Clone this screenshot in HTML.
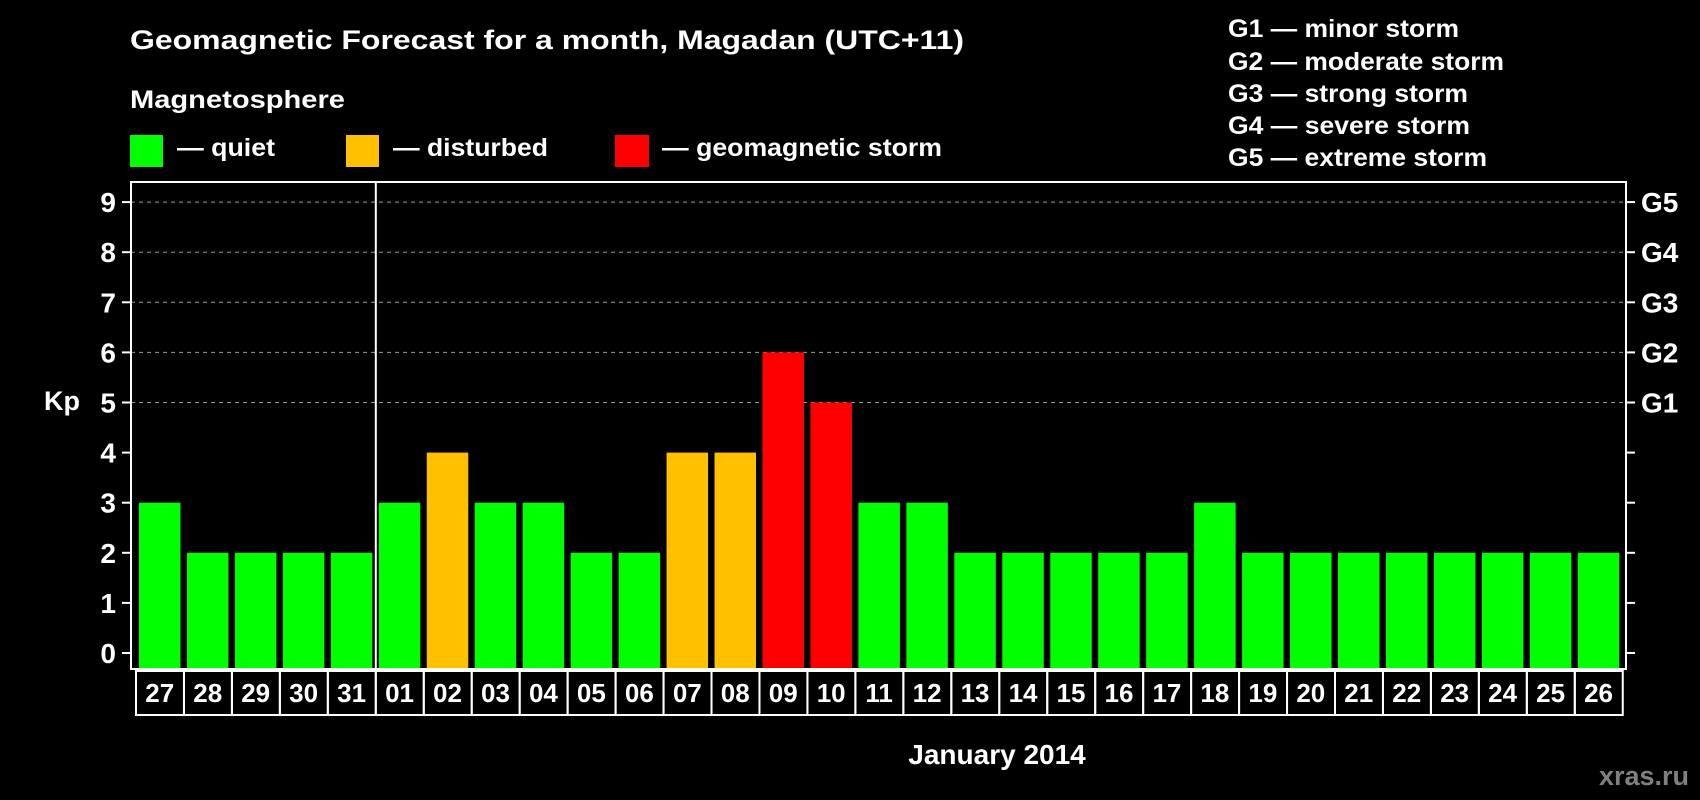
<!DOCTYPE html>
<html><head><meta charset="utf-8"><style>
html,body{margin:0;padding:0;background:#000;width:1700px;height:800px;overflow:hidden}
text{font-family:"Liberation Sans",Arial,sans-serif;font-weight:bold;fill:#fff}
</style></head><body>
<svg id="chart" width="1700" height="800" viewBox="0 0 1700 800">
<text x="130" y="49" font-size="27" textLength="834" lengthAdjust="spacingAndGlyphs">Geomagnetic Forecast for a month, Magadan (UTC+11)</text>
<text x="130" y="108" font-size="25" textLength="215" lengthAdjust="spacingAndGlyphs">Magnetosphere</text>
<g><rect x="130" y="135" width="33" height="32" fill="#00ff00"/><text x="177" y="156" font-size="25" textLength="98" lengthAdjust="spacingAndGlyphs">— quiet</text></g>
<g><rect x="346" y="135" width="33" height="32" fill="#ffc000"/><text x="393" y="156" font-size="25" textLength="155" lengthAdjust="spacingAndGlyphs">— disturbed</text></g>
<g><rect x="615" y="135" width="34" height="32" fill="#ff0000"/><text x="662" y="156" font-size="25" textLength="280" lengthAdjust="spacingAndGlyphs">— geomagnetic storm</text></g>
<g font-size="25">
<text x="1228" y="37" textLength="231" lengthAdjust="spacingAndGlyphs">G1 — minor storm</text>
<text x="1228" y="70" textLength="276" lengthAdjust="spacingAndGlyphs">G2 — moderate storm</text>
<text x="1228" y="102" textLength="240" lengthAdjust="spacingAndGlyphs">G3 — strong storm</text>
<text x="1228" y="134" textLength="242" lengthAdjust="spacingAndGlyphs">G4 — severe storm</text>
<text x="1228" y="166" textLength="259" lengthAdjust="spacingAndGlyphs">G5 — extreme storm</text>
</g>
<text x="62" y="410" font-size="27" text-anchor="middle">Kp</text>
<text x="997" y="764" font-size="28" text-anchor="middle">January 2014</text>
<text x="1689" y="785" font-size="27" text-anchor="end" style="fill:#808080">xras.ru</text>
<g id="grid"></g><g id="bars"></g><g id="axes"></g><g id="xlabels"></g>
</svg>
<script>
const days = ["27","28","29","30","31","01","02","03","04","05","06","07","08","09","10","11","12","13","14","15","16","17","18","19","20","21","22","23","24","25","26"];
const kp = [3,2,2,2,2,3,4,3,3,2,2,4,4,6,5,3,3,2,2,2,2,2,3,2,2,2,2,2,2,2,2];
const yTicks = [0,1,2,3,4,5,6,7,8,9];
const gLabels = ["","","","","","G1","G2","G3","G4","G5"];
const NS="http://www.w3.org/2000/svg";
const L=131,R=1626,T=182,B=669,Y0=653,UNIT=50.1,X0=139,PITCH=47.96,BW=41.5;
const y=v=>Y0-v*UNIT, x=i=>X0+i*PITCH;
function mk(tag,attrs,parent){const e=document.createElementNS(NS,tag);for(const k in attrs)e.setAttribute(k,attrs[k]);document.getElementById(parent).appendChild(e);return e;}
yTicks.forEach((t,i)=>{
  if(t>=5){const g=mk("line",{x1:L,x2:R,y1:y(t),y2:y(t),stroke:"#999","stroke-dasharray":"4,4","stroke-width":1},"grid");
  
  }
  const a=mk("line",{x1:L-9,x2:L,y1:y(t),y2:y(t),stroke:"#fff","stroke-width":2},"axes");
  
  
  const b=mk("line",{x1:R,x2:R+9,y1:y(t),y2:y(t),stroke:"#fff","stroke-width":2},"axes");
  
  
  const tl=mk("text",{x:L-15,y:y(t)+10,"font-size":28,"text-anchor":"end"},"axes");tl.textContent=t;
  
  
  if(gLabels[i]){const gl=mk("text",{x:1641,y:y(t)+10,"font-size":28},"axes");gl.textContent=gLabels[i];
  
  }
});
kp.forEach((v,i)=>{
  const c=v>=5?"#ff0000":(v>=4?"#ffc000":"#00ff00");
  const r=mk("rect",{x:x(i),y:y(v),width:BW,height:B-1-y(v),fill:c},"bars");
  
  
  const cell=mk("rect",{x:x(i)-3,y:671,width:PITCH,height:44,fill:"none",stroke:"#fff","stroke-width":2},"xlabels");
  
  
  const t=mk("text",{x:x(i)+BW/2,y:702,"font-size":26,"text-anchor":"middle"},"xlabels");t.textContent=days[i];
  
  
});
const box=mk("rect",{x:L,y:T,width:R-L,height:B-T,fill:"none",stroke:"#fff","stroke-width":2},"axes");


const sep=mk("line",{x1:x(5)-3,x2:x(5)-3,y1:T,y2:B,stroke:"#fff","stroke-width":2},"axes");


</script>
</body></html>
